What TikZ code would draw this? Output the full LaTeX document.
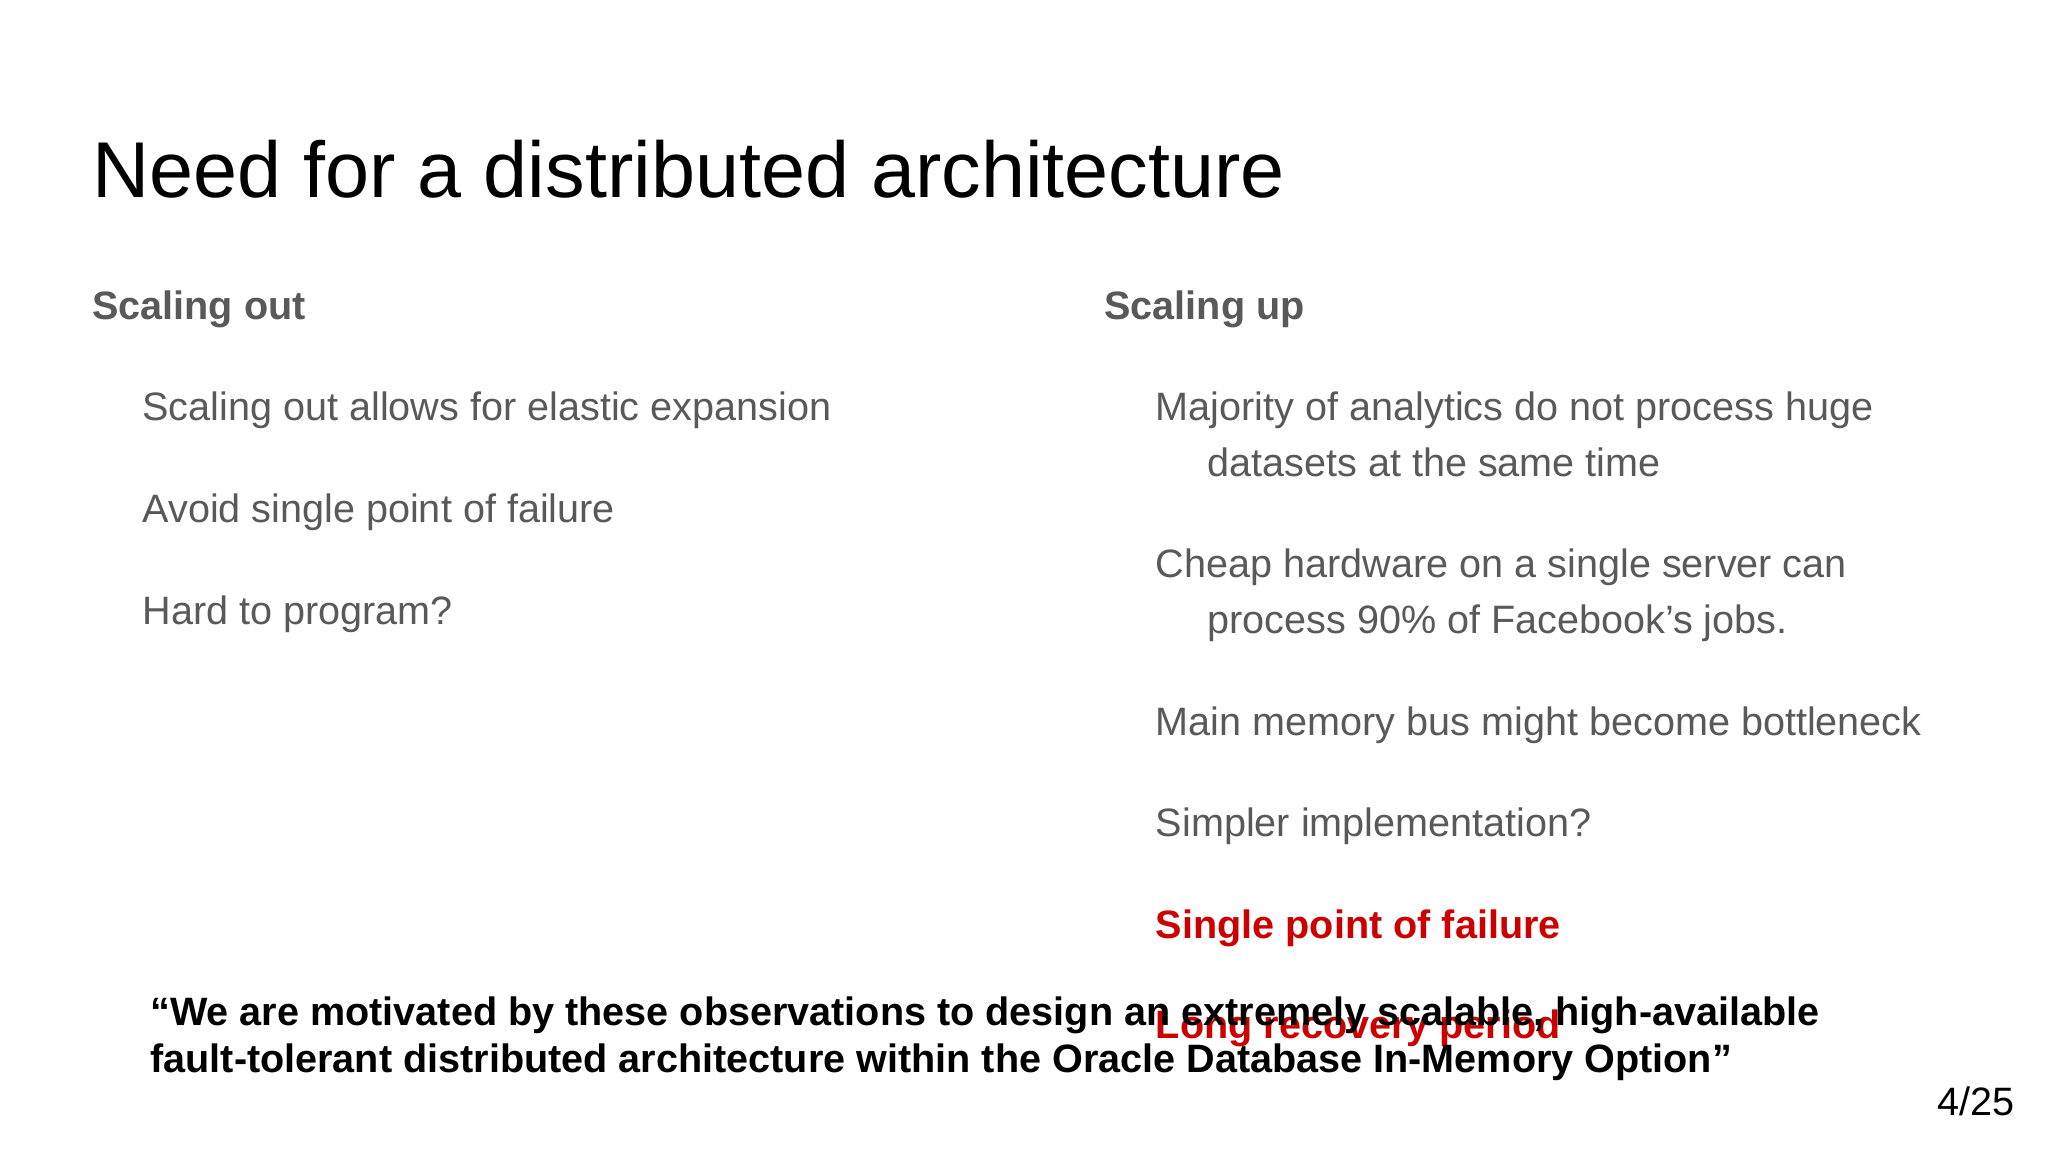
\documentclass[tikz,border=0pt]{standalone}
\usepackage{fontspec}
\setmainfont{Liberation Sans}
\definecolor{bodygray}{HTML}{595959}
\definecolor{redtxt}{HTML}{CC0000}
\tikzset{
  t/.style={anchor=base west, inner sep=0pt, outer sep=0pt},
  item/.style={t, text=bodygray, font=\fontsize{30}{36}\selectfont},
  head/.style={t, text=bodygray, font=\bfseries\fontsize{30}{36}\selectfont},
  quote/.style={t, text=black, font=\bfseries\fontsize{30}{36}\selectfont},
}
\begin{document}
\begin{tikzpicture}[x=1pt,y=-1pt]
\useasboundingbox[fill=white] (0,0) rectangle (1552,873);
\node[t, font=\fontsize{60}{72}\selectfont] (title) at (70,150) {Need for a distributed architecture};
\node[head] (hl) at (70,242) {Scaling out};
\node[head] (hr) at (837,242) {Scaling up};
\node[item] (l1) at (108,319) {Scaling out allows for elastic expansion};
\node[item] (l2) at (108,396) {Avoid single point of failure};
\node[item] (l3) at (108,473) {Hard to program?};
\node[item] (r1) at (876,319) {Majority of analytics do not process huge};
\node[item] (r1b) at (915,361) {datasets at the same time};
\node[item] (r2) at (876,438) {Cheap hardware on a single server can};
\node[item] (r2b) at (915,480) {process 90\% of Facebook’s jobs.};
\node[item] (r3) at (876,557) {Main memory bus might become bottleneck};
\node[item] (r4) at (876,634) {Simpler implementation?};
\node[head, text=redtxt] (r5) at (876,711) {Single point of failure};
\node[head, text=redtxt] (r6) at (876,787) {Long recovery period};
\node[quote] (q1) at (114,777) {“We are motivated by these observations to design an extremely scalable, high-available};
\node[quote] (q2) at (114,813) {fault-tolerant distributed architecture within the Oracle Database In-Memory Option”};
\node[t, font=\fontsize{30}{36}\selectfont] (pg) at (1468,845) {4/25};
\end{tikzpicture}
\end{document}
